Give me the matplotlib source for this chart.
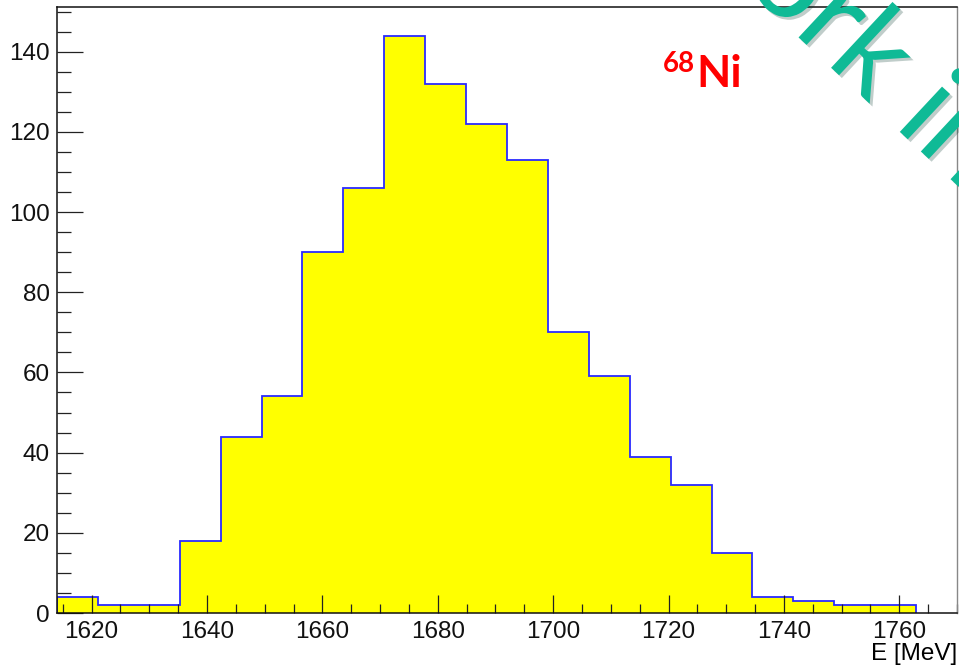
import numpy as np
import matplotlib.pyplot as plt
import matplotlib.patheffects as pe
from matplotlib.ticker import MultipleLocator

# energy spectrum, 22 bins between 1614 and 1770 MeV
e_low = 1614.0
e_high = 1770.0
n_bins = 22
counts = [4, 2, 2, 18, 44, 54, 90, 106, 144, 132, 122, 113, 70, 59, 39, 32, 15, 4, 3, 2, 2, 0]
x_ticks = [1620, 1640, 1660, 1680, 1700, 1720, 1740, 1760]
y_ticks = [0, 20, 40, 60, 80, 100, 120, 140]

edges = np.linspace(e_low, e_high, n_bins + 1)
counts = np.array(counts)

plt.rcParams["font.family"] = ["Liberation Sans", "DejaVu Sans"]

fig = plt.figure(figsize=(9.59, 6.67), dpi=100)
ax = fig.add_axes([57 / 959, 1 - 613 / 667, (957 - 57) / 959, (613 - 6.7) / 667])

ax.stairs(counts, edges, fill=True, color="#ffff00", zorder=1)
# outline stops at the last filled bin
last = np.nonzero(counts)[0][-1] + 1
ax.stairs(counts[:last], edges[:last + 1], color="#2a2aff", linewidth=1.3, zorder=1.5)

ax.set_xlim(e_low, e_high)
ax.set_ylim(0, counts.max() * 1.05)
ax.set_xticks(x_ticks)
ax.set_yticks(y_ticks)
ax.xaxis.set_minor_locator(MultipleLocator(5))
ax.yaxis.set_minor_locator(MultipleLocator(5))
ax.tick_params(axis="both", which="both", direction="in", width=0.9, color="#222222",
               labelsize=17.5, labelcolor="#111111", top=False, right=False)
ax.tick_params(axis="x", which="major", length=13, pad=6)
ax.tick_params(axis="x", which="minor", length=6.5)
ax.tick_params(axis="y", which="major", length=19, pad=5)
ax.tick_params(axis="y", which="minor", length=10)
for side in ["left", "bottom", "top"]:
    ax.spines[side].set_linewidth(1.1)
    ax.spines[side].set_color("#111111")
ax.spines["right"].set_color("#888888")
ax.spines["right"].set_linewidth(1.0)

ax.set_xlabel("E [MeV]", loc="right", fontsize=17.5, labelpad=0)

# isotope label
fig.text(663 / 959, 1 - 72 / 667, "68", color="#ff0000", fontsize=20,
         fontweight="bold", family="Lato", ha="left", va="baseline")
fig.text(696 / 959, 1 - 87 / 667, "Ni", color="#ff0000", fontsize=32,
         fontweight="bold", family="Lato", ha="left", va="baseline")

# slide watermark running off the corner
fig.text(649 / 959, 1 + 102 / 667, "Work in progress", color="#0fba96", fontsize=88,
         family="Lato", rotation=-43, rotation_mode="anchor", ha="left", va="baseline",
         path_effects=[pe.SimplePatchShadow(offset=(2, -2), alpha=0.25), pe.Normal()])

fig.savefig("out.png", dpi=100)
